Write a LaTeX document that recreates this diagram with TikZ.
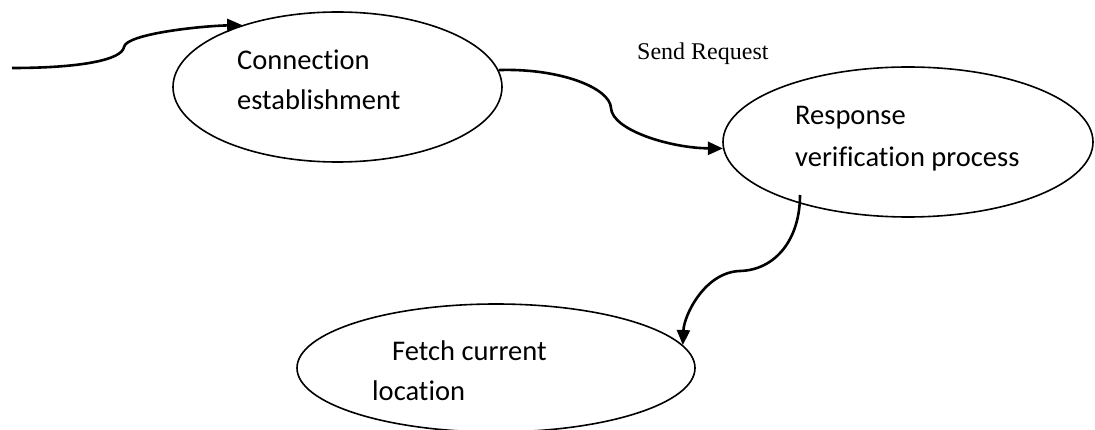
\documentclass[tikz,border=0pt]{standalone}
\usepackage{fontspec}
\setmainfont{Carlito}[Ligatures=NoCommon]
\newfontfamily\reqfont{Liberation Serif}
\usetikzlibrary{shapes.geometric,arrows.meta,calc}

\begin{document}
\begin{tikzpicture}[x=1pt,y=-1pt,
  stage/.style={draw=black,line width=1.6pt,ellipse,inner sep=0pt},
  txt/.style={anchor=base west,inner sep=0pt,font=\fontsize{28.5}{40}\selectfont},
  flow/.style={draw=black,line width=2.6pt,-{Triangle[length=15pt,width=13pt]}}]
  \useasboundingbox (0,0) rectangle (1095,430);

  % process bubbles
  \node[stage,minimum width=329pt,minimum height=150pt] (conn) at (337.5,87) {};
  \node[stage,minimum width=370pt,minimum height=150pt] (resp) at (908,142) {};
  \node[stage,minimum width=398pt,minimum height=128pt] (fetch) at (496,368) {};

  % bubble texts
  \node[txt] (conn1) at (237,70) {Connection};
  \node[txt] (conn2) at (237,110) {establishment};
  \node[txt] (resp1) at (795,125) {Response};
  \node[txt] (resp2) at (795,167) {verification process};
  \node[txt] (fetch1) at (392,360) {Fetch current};
  \node[txt] (fetch2) at (372,400) {location};

  % connector label
  \node[anchor=base west,inner sep=0pt,font=\reqfont\fontsize{24}{28}\selectfont] (req) at (637,60) {Send Request};

  % entry point and the exit point inside the response bubble
  \coordinate (entry) at (12,68);
  \coordinate (out) at ($(resp.center)+(-108,53)$);

  \draw[flow] (entry) .. controls (80,68) and (122,60) .. (124,47)
                      .. controls (126,34) and (200,26) .. (conn.147.5);
  \draw[flow] (conn.6.6) .. controls (560,68) and (610,88) .. (611,108)
                         .. controls (612,130) and (670,148) .. (resp.182.5);
  \draw[flow] (out) .. controls (800,240) and (775,270) .. (740,271)
                    .. controls (705,272) and (684,315) .. (fetch.7);
\end{tikzpicture}
\end{document}
